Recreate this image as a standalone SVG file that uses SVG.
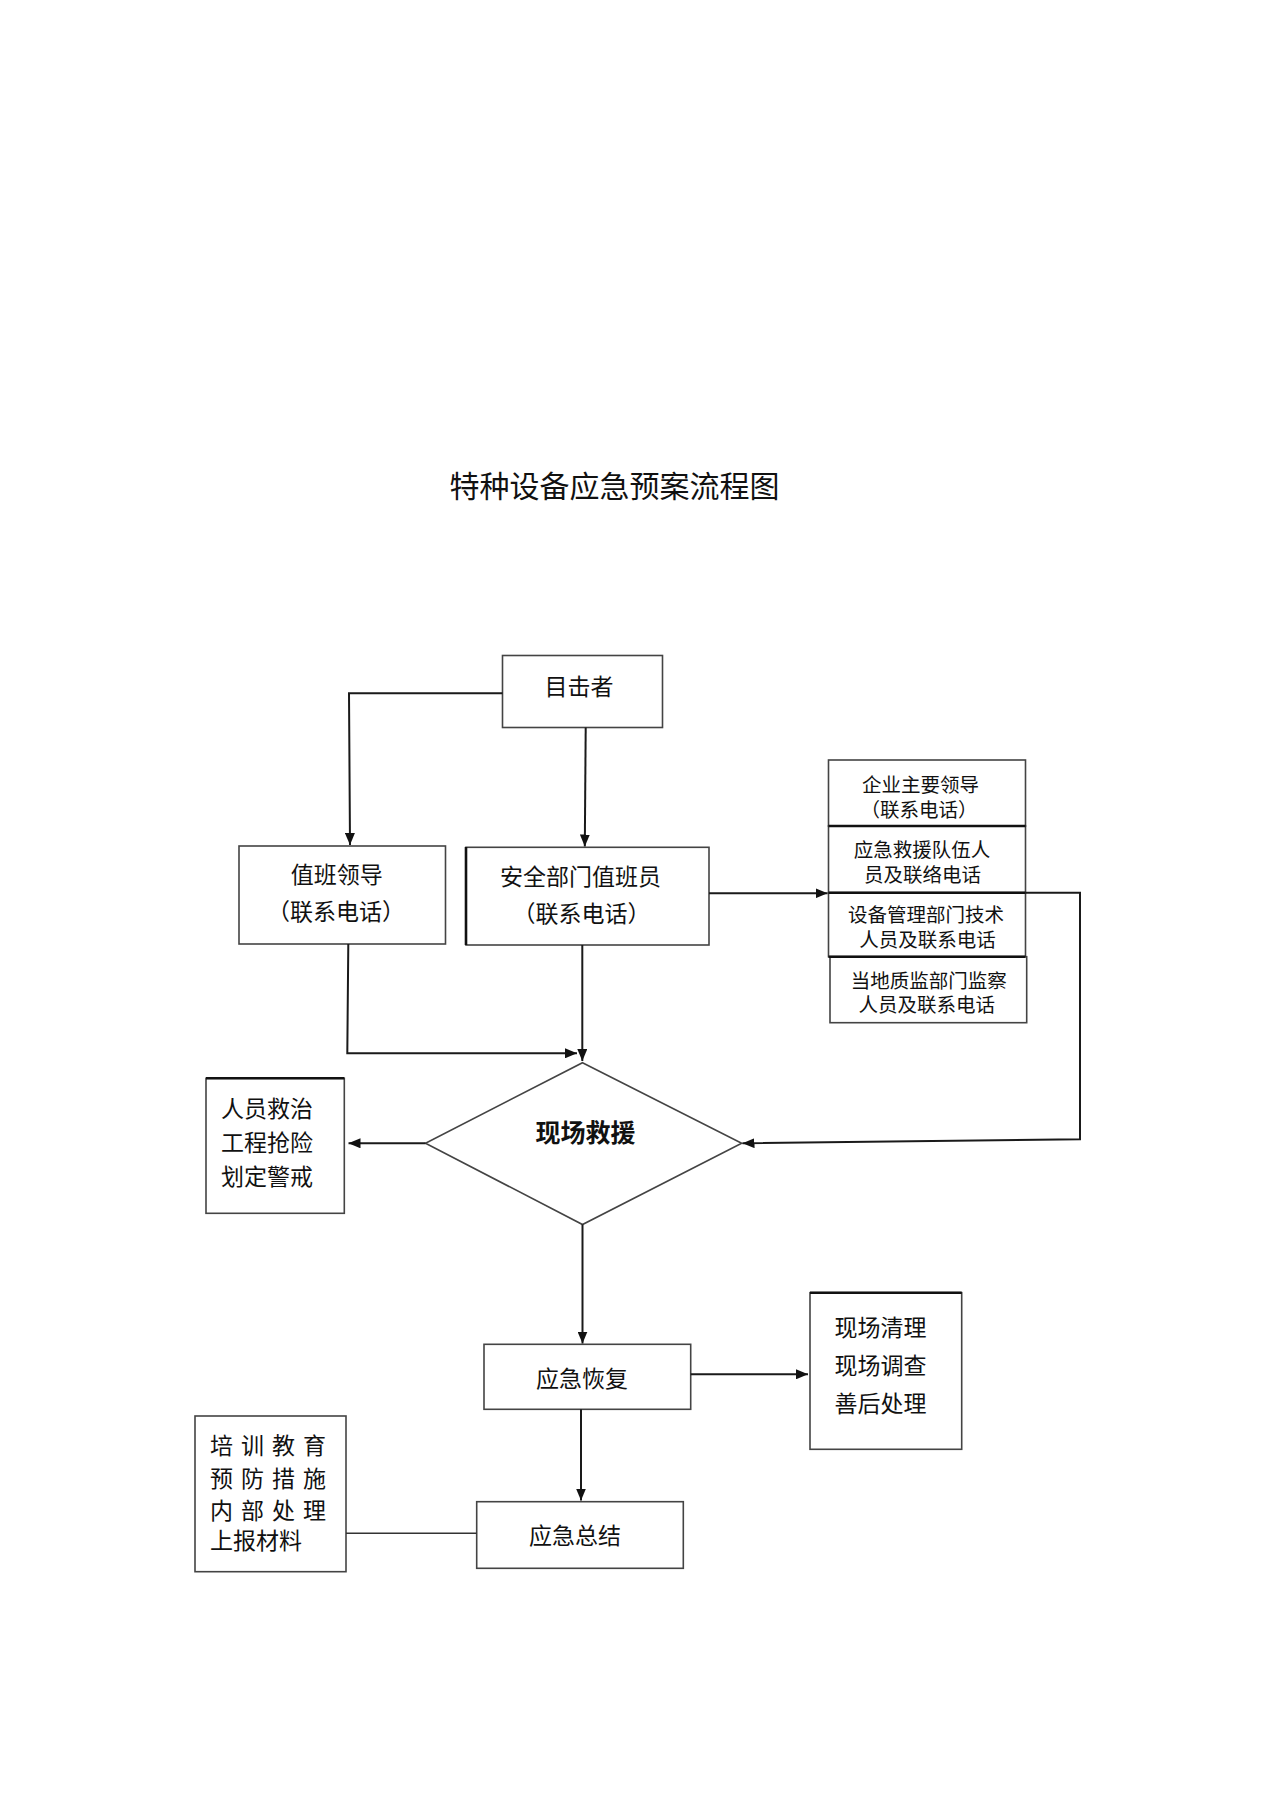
<svg xmlns="http://www.w3.org/2000/svg" width="1275" height="1804" viewBox="0 0 1275 1804">
<style>
  .box { fill: #fff; stroke: #444; stroke-width: 1.6; }
  .thick { stroke: #111; stroke-width: 2.6; fill: none; }
  .t { font-family: "Noto Sans CJK SC", "Noto Sans CJK TC", sans-serif; font-size: 23px; fill: #111; dominant-baseline: central; }
  .s { font-size: 19.5px; }
  .c { text-anchor: middle; }
  .b { font-weight: bold; font-size: 25px; }
  .con { fill: none; stroke: #1a1a1a; stroke-width: 2; }
  .plain { fill: none; stroke: #333; stroke-width: 1.6; }
</style>
<defs>
  <marker id="arr" viewBox="0 0 12 10" refX="12" refY="5" markerWidth="12" markerHeight="10" markerUnits="userSpaceOnUse" orient="auto">
    <path d="M0,0 L12,5 L0,10 z" fill="#111"/>
  </marker>
</defs>
<rect width="1275" height="1804" fill="#fff"/>

<text class="t c" x="614.5" y="484" style="font-size:30px">特种设备应急预案流程图</text>

<g id="witness">
  <rect class="box" x="502.5" y="655.5" width="160" height="72"/>
  <text class="t c" x="579" y="684.5">目击者</text>
</g>

<g id="duty-leader">
  <rect class="box" x="239" y="846" width="206.5" height="98"/>
  <text class="t c" x="336.7" y="872.5">值班领导</text>
  <text class="t c" x="336" y="909.5">（联系电话）</text>
</g>

<g id="safety-duty">
  <rect class="box" x="466" y="847.3" width="243" height="97.7"/>
  <line class="thick" x1="466" y1="847" x2="466" y2="945"/>
  <text class="t c" x="580.5" y="874.5">安全部门值班员</text>
  <text class="t c" x="581.5" y="911.5">（联系电话）</text>
</g>

<g id="contacts">
  <g id="enterprise-leader">
    <rect class="box" x="828.5" y="760" width="197" height="66"/>
    <text class="t s c"><tspan x="920.5" y="782.5">企业主要领导</tspan><tspan x="919" y="807.5">（联系电话）</tspan></text>
  </g>
  <g id="rescue-team">
    <rect class="box" x="828.5" y="826" width="197" height="66.7"/>
    <text class="t s c"><tspan x="922" y="847.5">应急救援队伍人</tspan><tspan x="922.5" y="872.5">员及联络电话</tspan></text>
  </g>
  <g id="equipment-dept">
    <rect class="box" x="828.5" y="892.7" width="197" height="64"/>
    <text class="t s c"><tspan x="926" y="912.5">设备管理部门技术</tspan><tspan x="927.5" y="937.5">人员及联系电话</tspan></text>
  </g>
  <g id="quality-dept">
    <rect class="box" x="830" y="956.7" width="196.7" height="66"/>
    <text class="t s c"><tspan x="928.7" y="979">当地质监部门监察</tspan><tspan x="926.7" y="1002.5">人员及联系电话</tspan></text>
  </g>
  <line class="thick" x1="828.5" y1="826" x2="1025.5" y2="826"/>
  <line class="thick" x1="828.5" y1="892.7" x2="1025.5" y2="892.7"/>
  <line class="thick" x1="828.5" y1="956.7" x2="1025.5" y2="956.7"/>
</g>

<g id="onsite-rescue">
  <polygon class="box" points="582.5,1062.7 741.7,1143.3 582.5,1224.5 425.5,1143.3"/>
  <text class="t c b" x="585.6" y="1130.5">现场救援</text>
</g>

<g id="rescue-actions">
  <rect class="box" x="206" y="1078.3" width="138.3" height="135"/>
  <line class="thick" x1="206" y1="1078.3" x2="344.3" y2="1078.3"/>
  <text class="t" x="221" y="1106.5">人员救治</text>
  <text class="t" x="221" y="1140.5">工程抢险</text>
  <text class="t" x="221" y="1174.5">划定警戒</text>
</g>

<g id="recovery">
  <rect class="box" x="484" y="1344.3" width="206.7" height="65"/>
  <text class="t c" x="582" y="1376.5">应急恢复</text>
</g>

<g id="cleanup">
  <rect class="box" x="810" y="1292.7" width="151.7" height="156.6"/>
  <line class="thick" x1="810" y1="1292.7" x2="961.7" y2="1292.7"/>
  <text class="t" x="834.5" y="1325.5">现场清理</text>
  <text class="t" x="834.5" y="1364">现场调查</text>
  <text class="t" x="834.5" y="1402">善后处理</text>
</g>

<g id="training">
  <rect class="box" x="195" y="1416" width="151" height="155.7"/>
  <text class="t" x="210" y="1444" letter-spacing="8">培训教育</text>
  <text class="t" x="210" y="1477" letter-spacing="8">预防措施</text>
  <text class="t" x="210" y="1509" letter-spacing="8">内部处理</text>
  <text class="t" x="210" y="1539">上报材料</text>
</g>

<g id="summary">
  <rect class="box" x="476.7" y="1501.7" width="206.6" height="66.6"/>
  <text class="t c" x="575" y="1534">应急总结</text>
</g>

<g id="connectors">
  <path class="con" d="M502.5,693.3 L349,693.3 L350,845" marker-end="url(#arr)"/>
  <path class="con" d="M585.7,727.5 L584.8,846.5" marker-end="url(#arr)"/>
  <path class="con" d="M348.3,944 L347.3,1053.3 L577,1053.3" marker-end="url(#arr)"/>
  <path class="con" d="M582.3,945 L582.3,1061" marker-end="url(#arr)"/>
  <path class="con" d="M709,893.3 L827.5,893.3" marker-end="url(#arr)"/>
  <path class="con" d="M1025.5,892.7 L1080,892.7 L1080,1139.3 L742.5,1143.3" marker-end="url(#arr)"/>
  <path class="con" d="M425.5,1143.3 L348.5,1143.3" marker-end="url(#arr)"/>
  <path class="con" d="M582.5,1224.5 L582.5,1343.5" marker-end="url(#arr)"/>
  <path class="con" d="M690.7,1374.3 L808,1374.3" marker-end="url(#arr)"/>
  <path class="con" d="M581,1409.3 L581,1500.5" marker-end="url(#arr)"/>
  <path class="plain" d="M346,1533.3 L476.7,1533.3"/>
</g>
</svg>
